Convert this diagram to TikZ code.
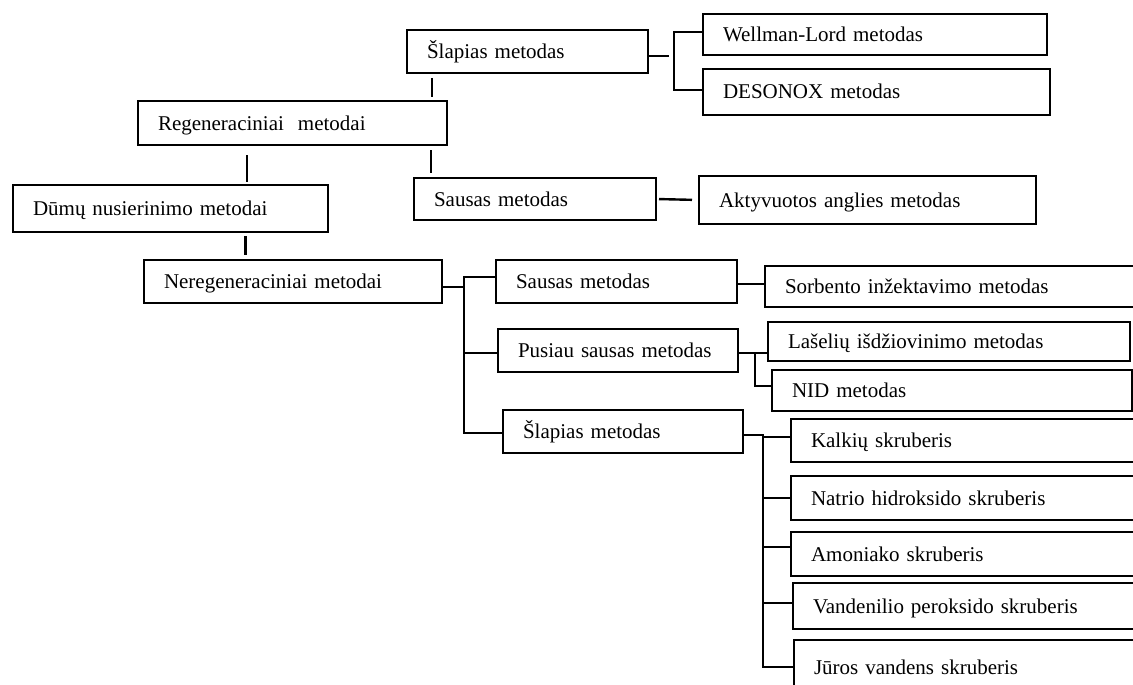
\documentclass[tikz,border=0pt]{standalone}
\usepackage{fontspec}
\setmainfont{Liberation Serif}
\usepackage{tikz}

\begin{document}
\begin{tikzpicture}[x=1pt,y=-1pt,
  bx/.style={draw,line width=2.4pt,anchor=west,align=left,outer sep=0pt,inner xsep=20pt,inner ysep=0pt,
    text height=16pt,text depth=2pt,font=\fontsize{21}{25}\selectfont},
  link/.style={line width=2.4pt}]
\useasboundingbox (0,0) rectangle (1133,685);
\fill[white] (0,0) rectangle (1133,685);
\clip (0,0) rectangle (1133,685);
\node[bx,text width=275pt,minimum height=47pt] (dumu) at (13,208.5) {Dūmų nusierinimo metodai};
\node[bx,text width=269pt,minimum height=44pt] (regen) at (138,123) {Regeneraciniai~ metodai};
\node[bx,text width=258pt,minimum height=43pt] (nereg) at (144,281.5) {Neregeneraciniai metodai};
\node[bx,text width=201pt,minimum height=43pt] (slapA) at (407,51.5) {Šlapias metodas};
\node[bx,text width=202pt,minimum height=42pt] (sausA) at (414,199) {Sausas metodas};
\node[bx,text width=304pt,minimum height=41pt] (wellman) at (703,34.5) {Wellman-Lord metodas};
\node[bx,text width=307pt,minimum height=46pt] (desonox) at (703,92) {DESONOX metodas};
\node[bx,text width=297pt,minimum height=48pt] (aktyv) at (699,200) {Aktyvuotos anglies metodas};
\node[bx,text width=201pt,minimum height=43pt] (sausB) at (496,281.5) {Sausas metodas};
\node[bx,text width=200pt,minimum height=43pt] (pusiau) at (498,350.5) {Pusiau sausas metodas};
\node[bx,text width=200pt,minimum height=43pt] (slapB) at (503,431.5) {Šlapias metodas};
\node[bx,text width=360pt,minimum height=41pt] (sorbent) at (765,286.5) {Sorbento inžektavimo metodas};
\node[bx,text width=322pt,minimum height=39pt] (lasel) at (768,341.5) {Lašelių išdžiovinimo metodas};
\node[bx,text width=320pt,minimum height=41pt] (nid) at (772,390.5) {NID metodas};
\node[bx,text width=360pt,minimum height=43pt] (kalk) at (791,440.5) {Kalkių skruberis};
\node[bx,text width=360pt,minimum height=44pt] (natr) at (791,498) {Natrio hidroksido skruberis};
\node[bx,text width=360pt,minimum height=44pt] (amon) at (791,554) {Amoniako skruberis};
\node[bx,text width=360pt,minimum height=46pt] (vand) at (793,606) {Vandenilio peroksido skruberis};
\node[bx,text width=360pt,minimum height=54pt] (juros) at (794,667) {Jūros vandens skruberis};

\coordinate (tA) at ([xshift=25pt]slapA.south west);
\coordinate (tB) at ([xshift=17pt]sausA.north west);
\coordinate (tC) at ([xshift=109pt]regen.south west);
\coordinate (tD) at ([xshift=101pt]nereg.north west);
\draw[link,shorten <=5pt,shorten >=4pt] (tA) -- (tA |- regen.north);
\draw[link,shorten <=5pt,shorten >=5pt] (tB |- regen.south) -- (tB);
\draw[link,shorten <=10pt,shorten >=3pt] (tC) -- (tC |- dumu.north);
\draw[link,line width=3pt,shorten <=4pt,shorten >=5pt] (tD |- dumu.south) -- (tD);

\coordinate (stA) at (669,56);
\coordinate (brA) at (674,56);
\draw[link] (slapA.east |- stA) -- (stA);
\draw[link] ([yshift=2.5pt]wellman.west) -| (brA) |- ([yshift=2pt]desonox.west);
\draw[link,shorten <=3pt,shorten >=7pt] (sausA.east) -- (aktyv.west);

\coordinate (spN) at (464,287);
\coordinate (bP) at (464,353);
\draw[link] (nereg.east |- spN) -- (spN);
\draw[link] ([yshift=4.5pt]sausB.west) -| (spN) |- ([yshift=-1.5pt]slapB.west);
\draw[link] (bP) -- (bP -| pusiau.west);
\draw[link] ([yshift=-2.5pt]sausB.east) -- ([yshift=2.5pt]sorbent.west);

\coordinate (spP) at (755,353);
\draw[link] (pusiau.east |- spP) -- (lasel.west |- spP);
\draw[link] (spP) |- ([yshift=4.5pt]nid.west);

\coordinate (spS) at (763,435);
\draw[link] (slapB.east |- spS) -- (spS) |- (juros.west);
\foreach \b/\yy in {kalk/437,natr/498,amon/547,vand/603}{
  \coordinate (j\b) at (763,\yy);
  \draw[link] (j\b) -- (j\b -| \b.west);
}
\end{tikzpicture}
\end{document}
